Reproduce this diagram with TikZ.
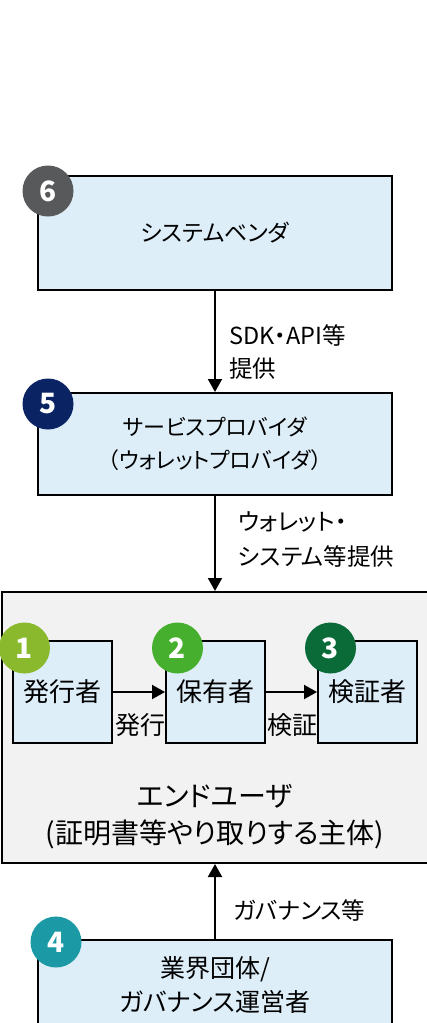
\documentclass[tikz,border=0pt]{standalone}
\usepackage{fontspec}
\setmainfont{Noto Sans CJK JP}[RawFeature=+palt]
\newfontfamily\fullw{Noto Sans CJK JP}
\usetikzlibrary{arrows.meta}
\definecolor{boxblue}{HTML}{DDEEF9}
\definecolor{eugray}{HTML}{F2F2F2}
\definecolor{cSix}{HTML}{58595B}
\definecolor{cFive}{HTML}{0A2463}
\definecolor{cOne}{HTML}{8AB92D}
\definecolor{cTwo}{HTML}{46B02E}
\definecolor{cThree}{HTML}{0B6B38}
\definecolor{cFour}{HTML}{1B9AA6}
\tikzset{
  box/.style={draw=black, line width=2pt, fill=boxblue, align=center, inner sep=0pt,
    font=\fontsize{22}{33}\selectfont},
  inbox/.style={draw=black, line width=2pt, fill=boxblue, align=center, inner sep=0pt,
    minimum width=99pt, minimum height=102pt, font=\fontsize{26}{30}\selectfont},
  badge/.style={circle, fill=#1, minimum size=51pt, inner sep=0pt, text=white,
    font=\fontsize{28}{28}\selectfont\bfseries},
  lbl/.style={align=left, inner sep=0pt, font=\fontsize{23.5}{33}\selectfont},
  conn/.style={line width=2pt, -{Triangle[width=14pt,length=13pt]}},
}
\begin{document}
\begin{tikzpicture}[x=1pt,y=-1pt]
\useasboundingbox[fill=white] (0,0) rectangle (427,1023);
% end user container
\node[draw=black, line width=2pt, fill=eugray, minimum width=428pt, minimum height=271pt, inner sep=0pt] (eu) at (216,727.5) {};
\node[align=center, inner sep=0pt, font=\fontsize{28}{37}\selectfont] (eutext) at (215,816.5) {エンドユーザ\\(証明書等やり取りする主体)};
% boxes
\node[box, minimum width=354pt, minimum height=114pt, font=\fontsize{23}{33}\selectfont] (b6) at (215,233) {システムベンダ};
\node[box, minimum width=354pt, minimum height=102pt] (b5) at (215,444) {サービスプロバイダ\\{\fullw （}ウォレットプロバイダ{\fullw ）}};
\node[box, minimum width=354pt, minimum height=90pt, font=\fontsize{25}{34}\selectfont] (b4) at (215,985) {業界団体/\\ガバナンス運営者};
\node[inbox] (i1) at (62.5,692) {発行者};
\node[inbox] (i2) at (215.5,692) {保有者};
\node[inbox] (i3) at (367.5,692) {検証者};
% connectors
\draw[conn] (b6.south) -- (b5.north);
\draw[conn] (b5.south) -- (eu.north -| b5.south);
\draw[conn] (b4.north) -- (eu.south -| b4.north);
\draw[conn] (i1.east) -- (i2.west);
\draw[conn] (i2.east) -- (i3.west);
% labels
\node[lbl, anchor=west] (l65) at (229,352) {SDK・API等\\提供};
\node[lbl, anchor=west, font=\fontsize{23.5}{35}\selectfont] (l5e) at (238,540) {ウォレット・\\システム等提供};
\node[lbl, anchor=west] (l4e) at (233,910) {ガバナンス等};
\node[lbl, font=\fontsize{25}{26}\selectfont] (l12) at (140,725) {発行};
\node[lbl, font=\fontsize{25}{26}\selectfont] (l23) at (292,725) {検証};
% badges
\node[badge=cSix] (n6) at (48,191) {6};
\node[badge=cFive] (n5) at (48,404) {5};
\node[badge=cOne] (n1) at (24.5,648) {1};
\node[badge=cTwo] (n2) at (177.5,648) {2};
\node[badge=cThree] (n3) at (330.5,648) {3};
\node[badge=cFour] (n4) at (56,942) {4};
\end{tikzpicture}
\end{document}
